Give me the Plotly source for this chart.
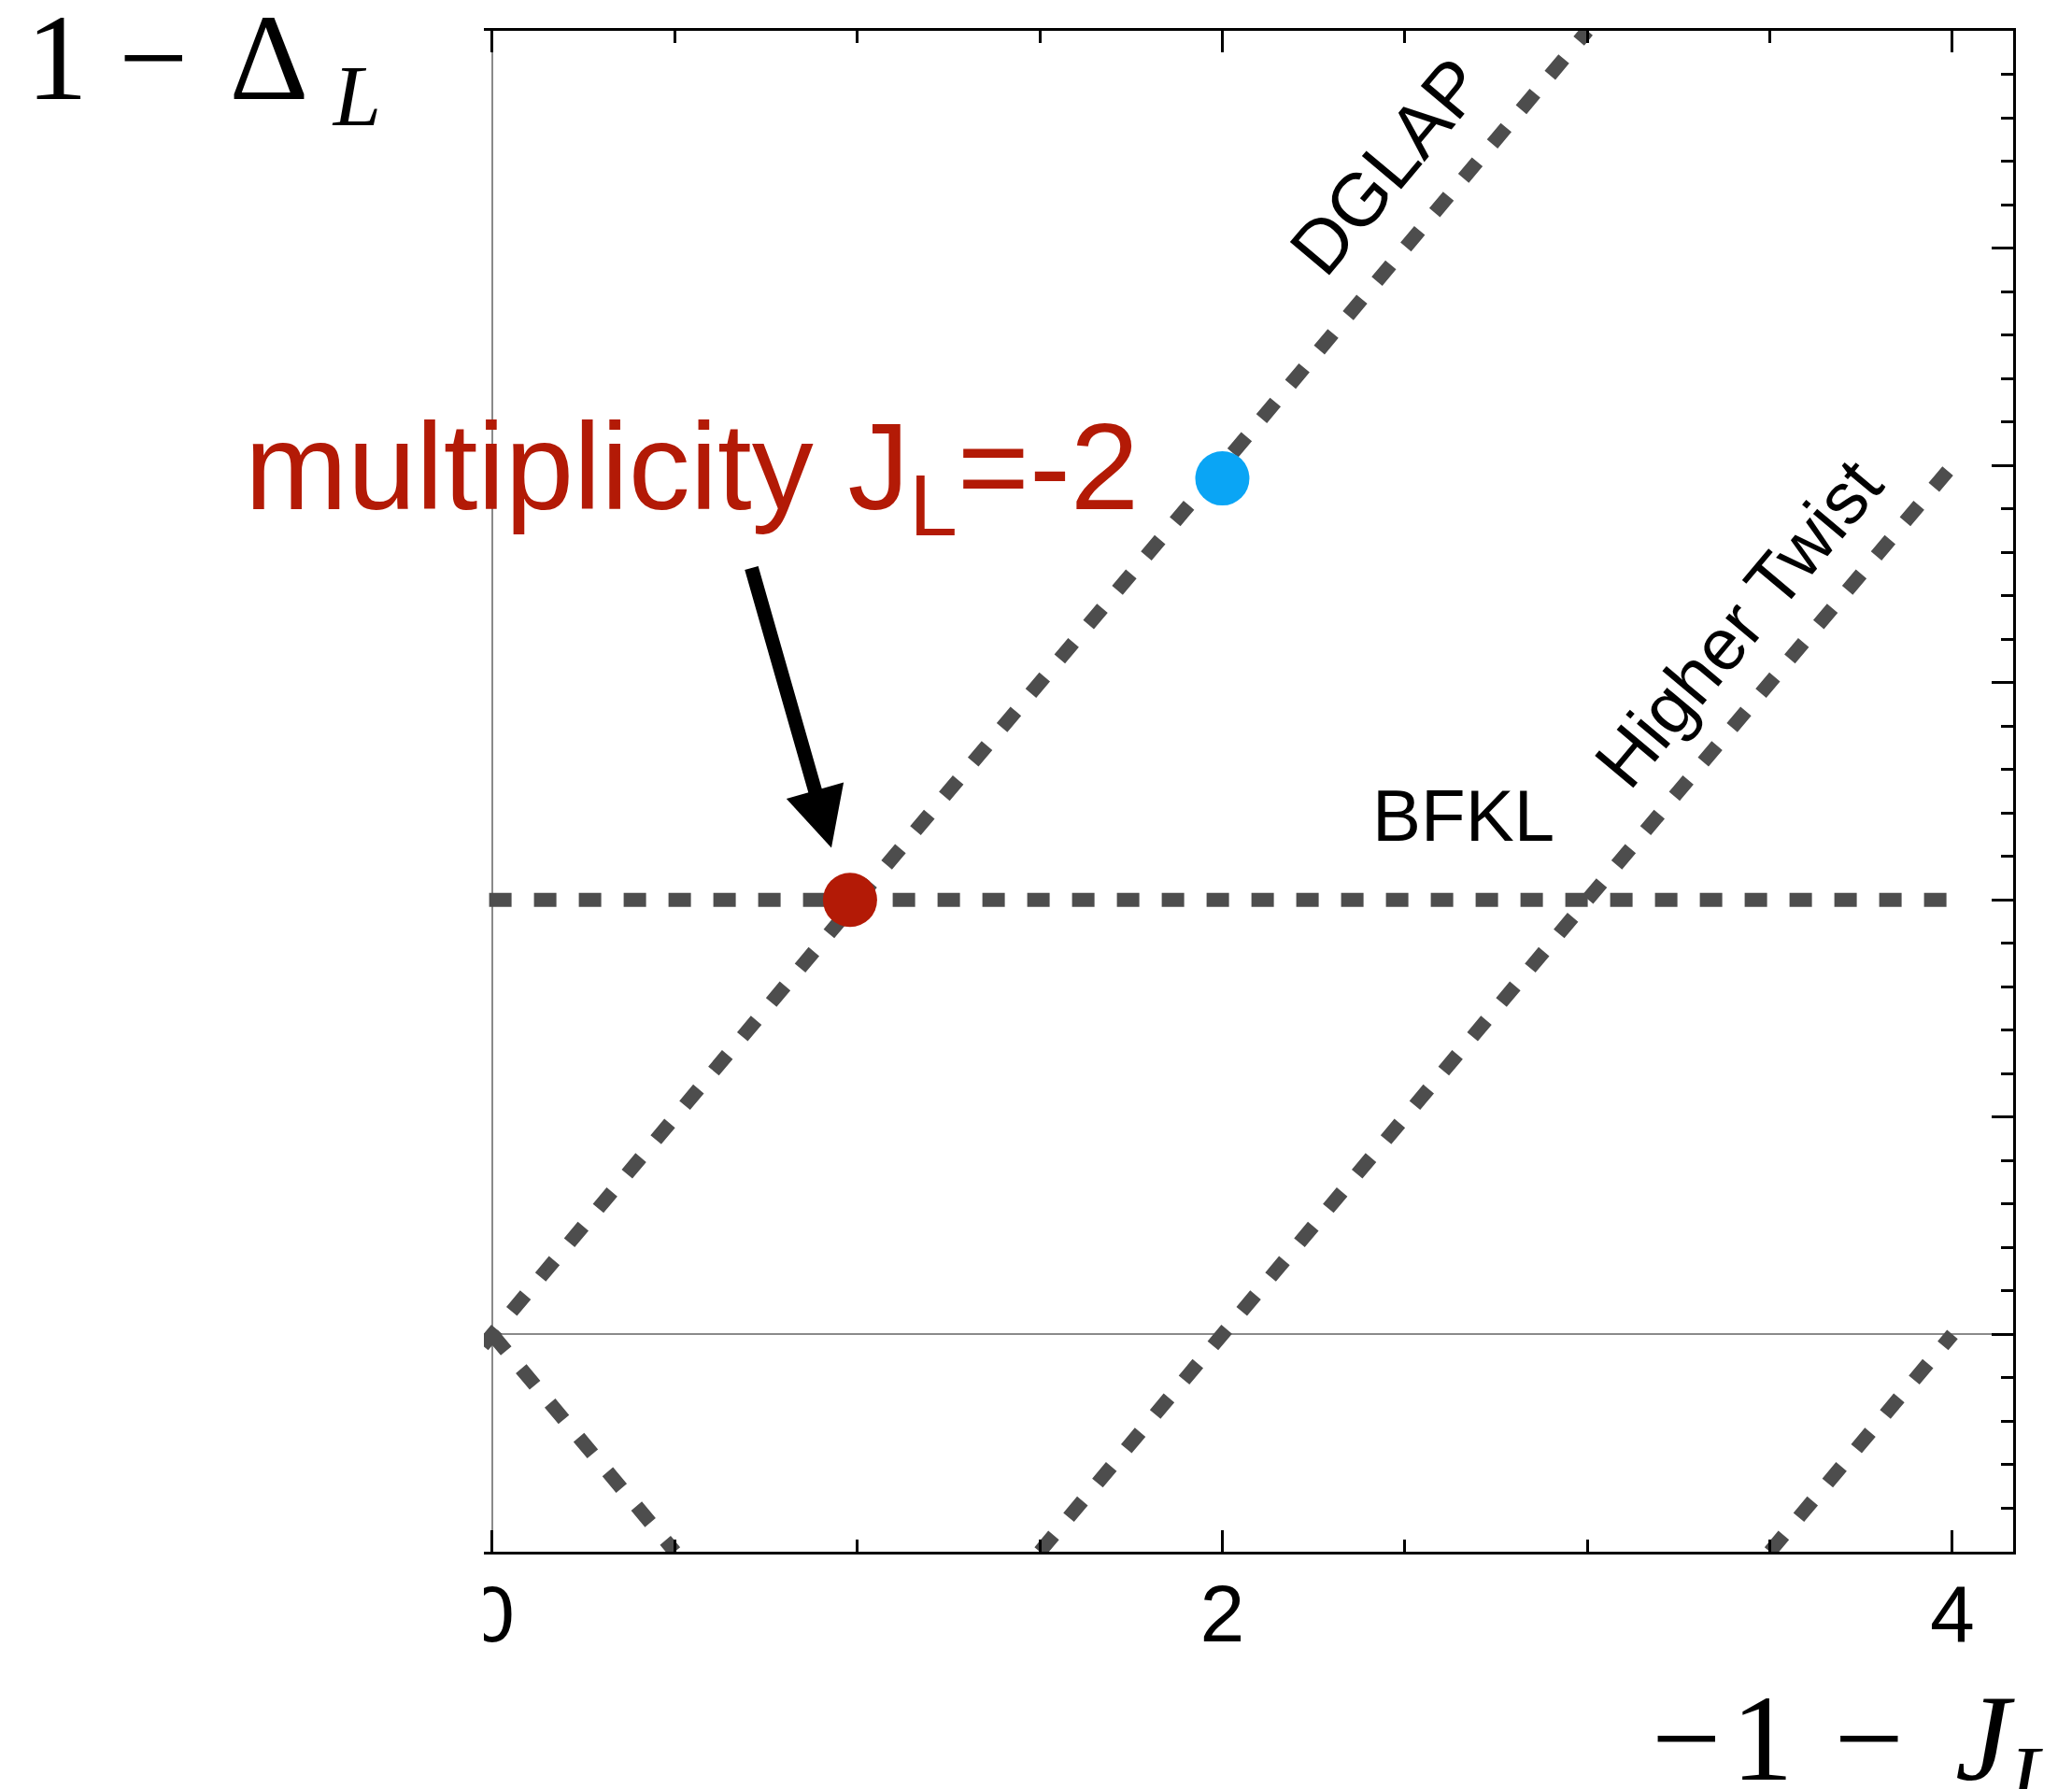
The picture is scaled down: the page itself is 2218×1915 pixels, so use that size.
import plotly.graph_objects as go

# ---------------- data ----------------
dglap_x = [-0.5, 3.0]
dglap_y = [-0.5, 3.0]
mirror_x = [0.0, 0.5]
mirror_y = [0.0, -0.5]
twist_x = [1.5, 4.0]
twist_y = [-0.5, 2.0]
twist2_x = [3.5, 4.0]
twist2_y = [-0.5, 0.0]
bfkl_x = [-0.5, 4.0]
bfkl_y = [1.0, 1.0]
mult_point_x = [0.98]
mult_point_y = [1.0]
blue_point_x = [2.0]
blue_point_y = [1.97]
x_tick_vals = [0, 2, 4]
x_tick_text = ["0", "2", "4"]

LINE = "#4d4d4d"
RED = "#b31a06"
BLUE = "#0aa5f5"
W, H = 2218, 1915
L, R, T, B = 518, 63, 33, 254
PW, PH = W - L - R, H - T - B


def px(x):
    return (x - L) / PW


def py(y):
    return (H - B - y) / PH


fig = go.Figure()
diag = dict(color=LINE, width=15, dash="23px,25px")
for xs, ys in [(dglap_x, dglap_y), (mirror_x, mirror_y), (twist_x, twist_y), (twist2_x, twist2_y)]:
    fig.add_trace(go.Scatter(x=xs, y=ys, mode="lines", line=diag, hoverinfo="skip", showlegend=False))
fig.add_trace(go.Scatter(x=bfkl_x, y=bfkl_y, mode="lines",
                         line=dict(color=LINE, width=15, dash="24px,24px"),
                         hoverinfo="skip", showlegend=False))
fig.add_trace(go.Scatter(x=mult_point_x, y=mult_point_y, mode="markers",
                         marker=dict(color=RED, size=58, line=dict(width=0)),
                         hoverinfo="skip", showlegend=False))
fig.add_trace(go.Scatter(x=blue_point_x, y=blue_point_y, mode="markers",
                         marker=dict(color=BLUE, size=58, line=dict(width=0)),
                         hoverinfo="skip", showlegend=False))

sans = "Liberation Sans, Arial, sans-serif"
serif = "Liberation Serif, Times New Roman, serif"
MINUS = "\u2212"
S3 = "\u2004"   # three-per-em space
TS = "\u2009"   # thin space
HS = "\u200a"   # hair space

annotations = [
    dict(text="multiplicity J<sub>L</sub>=-2", x=px(740), y=py(509), xref="paper", yref="paper",
         xanchor="center", yanchor="middle", showarrow=False,
         font=dict(family=sans, size=132, color=RED)),
    dict(text="DGLAP", x=px(1484), y=py(178), xref="paper", yref="paper",
         xanchor="center", yanchor="middle", showarrow=False, textangle=-50,
         font=dict(family=sans, size=80, color="black")),
    dict(text="Higher Twist", x=px(1861), y=py(667), xref="paper", yref="paper",
         xanchor="center", yanchor="middle", showarrow=False, textangle=-50,
         font=dict(family=sans, size=78, color="black")),
    dict(text="BFKL", x=px(1566), y=py(873), xref="paper", yref="paper",
         xanchor="center", yanchor="middle", showarrow=False,
         font=dict(family=sans, size=78, color="black")),
    dict(text="", x=0.929, y=1.12, xref="x", yref="y", ax=0.709, ay=1.767, axref="x", ayref="y",
         showarrow=True, arrowhead=2, arrowsize=0.85, arrowwidth=15, arrowcolor="black"),
    dict(text="1 " + MINUS + S3 + "\u0394" + TS + "<sub><i>L</i></sub>", x=px(26), y=py(71),
         xref="paper", yref="paper", xanchor="left", yanchor="middle", showarrow=False,
         font=dict(family=serif, size=132, color="black")),
    dict(text=MINUS + HS + "1" + S3 + MINUS + S3 + HS + "<i>J</i><sub><i>L</i></sub>", x=px(1766), y=py(1870),
         xref="paper", yref="paper", xanchor="left", yanchor="middle", showarrow=False,
         font=dict(family=serif, size=132, color="black")),
]

fig.update_layout(
    width=W, height=H,
    margin=dict(l=L, r=R, t=T, b=B, pad=0),
    plot_bgcolor="white", paper_bgcolor="white",
    showlegend=False,
    annotations=annotations,
    shapes=[dict(type="rect", xref="paper", yref="paper", x0=-0.35, x1=0, y0=-0.09, y1=-0.013,
                 fillcolor="white", line=dict(width=0), layer="above")],
    xaxis=dict(
        range=[-0.023, 4.1664], showgrid=False,
        zeroline=True, zerolinecolor="#8a8a8a", zerolinewidth=1.5,
        showline=True, linecolor="black", linewidth=3, mirror="ticks",
        ticks="inside", ticklen=23, tickwidth=2.5, tickcolor="black",
        tickmode="array", tickvals=x_tick_vals, ticktext=x_tick_text,
        tickfont=dict(family=sans, size=86, color="black"),
        ticklabelstandoff=-10,
        minor=dict(tickmode="linear", tick0=0, dtick=0.5, ticks="inside", ticklen=13,
                   tickwidth=2.5, tickcolor="black", showgrid=False),
    ),
    yaxis=dict(
        range=[-0.5, 3.0], side="right", showgrid=False,
        zeroline=True, zerolinecolor="#8a8a8a", zerolinewidth=1.5,
        showline=True, linecolor="black", linewidth=3, mirror=False,
        ticks="inside", ticklen=23, tickwidth=2.5, tickcolor="black",
        tickmode="linear", tick0=0, dtick=0.5, showticklabels=False,
        minor=dict(tickmode="linear", tick0=0, dtick=0.1, ticks="inside", ticklen=13,
                   tickwidth=2.5, tickcolor="black", showgrid=False),
    ),
)

fig.write_html("out.html")
